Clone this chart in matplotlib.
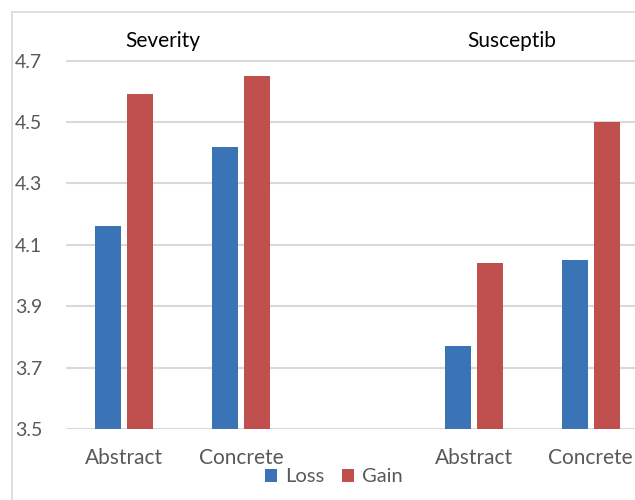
import numpy as np
import matplotlib.pyplot as plt
from matplotlib.lines import Line2D

# chart values (middle slot is an empty gap between the two panels)
categories = ['Abstract', 'Concrete', '', 'Abstract', 'Concrete']
loss = [4.16, 4.42, np.nan, 3.77, 4.05]
gain = [4.59, 4.65, np.nan, 4.04, 4.50]
yticks = [3.5, 3.7, 3.9, 4.1, 4.3, 4.5, 4.7]
group_titles = ['Severity', 'Susceptib']

plt.rcParams['font.family'] = ['Lato', 'DejaVu Sans']

W, H = 635, 500
fig = plt.figure(figsize=(W / 100, H / 100), dpi=100)
ax = fig.add_axes([66 / W, 71 / H, (W - 66) / W, 417 / H])

x = np.arange(len(categories))
bw = 0.223
off = 0.137
ax.bar(x - off, loss, bw, color='#3a74b7', label='Loss', zorder=3)
ax.bar(x + off, gain, bw, color='#c0504d', label='Gain', zorder=3)

ax.set_ylim(3.5, 3.5 + 417 / 307)
ax.set_xlim(-0.5, 4.5 - 14 / 116.6)
ax.set_yticks(yticks)
ax.set_yticklabels([f'{v:.1f}' for v in yticks])
ax.set_xticks(x)
ax.set_xticklabels(categories)
ax.tick_params(axis='y', length=0, pad=17, labelsize=14, labelcolor='#595959')
ax.tick_params(axis='x', length=0, pad=14, labelsize=15, labelcolor='#595959')
ax.grid(axis='y', color='#d9d9d9', linewidth=1.5, zorder=0)
for s in ax.spines.values():
    s.set_visible(False)

# panel titles
fig.text(163 / W, 1 - 41 / H, group_titles[0], ha='center', va='center', fontsize=15, color='black')
fig.text(512 / W, 1 - 41 / H, group_titles[1], ha='center', va='center', fontsize=15, color='black')

# chart border (cropped on right and bottom)
fig.add_artist(Line2D([12 / W, 1], [1 - 12 / H, 1 - 12 / H], color='#d9d9d9', lw=1.2))
fig.add_artist(Line2D([12 / W, 12 / W], [0, 1 - 12 / H], color='#d9d9d9', lw=1.2))

leg = fig.legend(loc='center', bbox_to_anchor=(334 / W, 1 - 477 / H), ncol=2, frameon=False,
                 fontsize=14.5, handlelength=0.6, handleheight=0.6, handletextpad=0.4,
                 columnspacing=0.9, borderpad=0)
for t in leg.get_texts():
    t.set_color('#595959')

fig.savefig('out.png', dpi=100)
